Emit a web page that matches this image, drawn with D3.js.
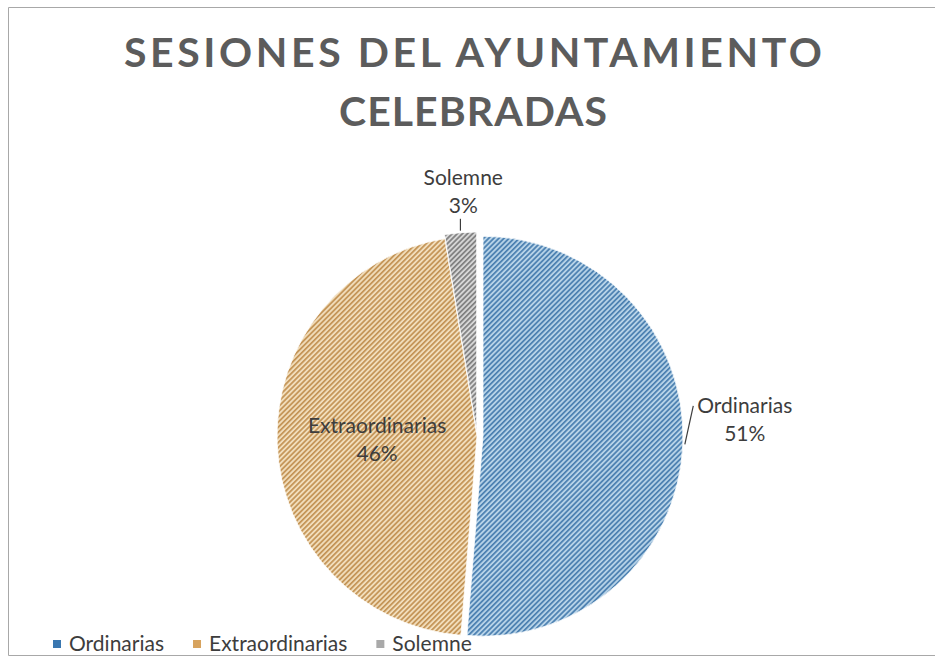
<!DOCTYPE html>
<html>
<head>
<meta charset="utf-8">
<script src="https://cdn.jsdelivr.net/npm/d3@7"></script>
<style>
  body { margin: 0; background: #fff; }
  svg { display: block; }
</style>
</head>
<body>
<svg id="chart" width="935" height="667"></svg>
<script>
// chart data
const titleLines = ["SESIONES DEL AYUNTAMIENTO", "CELEBRADAS"];
const categories = ["Ordinarias", "Extraordinarias", "Solemne"];
const sessions = [20, 18, 1];

// look
const stripeColors = ["#4a7fb0", "#c39355", "#7f7f7f"];
const stripeBg = ["#b6d2e7", "#f1ddbb", "#d6d6d6"];
const legendColors = ["#3a77b0", "#d7a35e", "#a9a9a9"];
const explode = [6, 0, 4];            // px each slice is pulled out
const labelInside = [false, true, false];
const labelNudge = [[0, -27], [0, 0], [6, 0]];

const svg = d3.select("#chart");
const W = 935, H = 667;
const cx = 477, cy = 436, r = 200;

// frame of the chart (right side runs off the scan)
svg.append("path")
  .attr("d", `M${W},7.5 H8.5 V655.5 H${W}`)
  .attr("fill", "none")
  .attr("stroke", "#a8a8a8")
  .attr("stroke-width", 1);

// hatch patterns
const defs = svg.append("defs");
categories.forEach((c, i) => {
  const p = defs.append("pattern")
    .attr("id", "hatch" + i)
    .attr("patternUnits", "userSpaceOnUse")
    .attr("width", 3.6)
    .attr("height", 3.6)
    .attr("patternTransform", "rotate(45)");
  p.append("rect").attr("width", 3.6).attr("height", 3.6).attr("fill", stripeBg[i]);
  p.append("rect").attr("width", 1.7).attr("height", 3.6).attr("fill", stripeColors[i]);
});

// title
const title = svg.append("g")
  .attr("font-family", "Lato, 'Open Sans', sans-serif")
  .attr("font-weight", "bold")
  .attr("font-size", 41)
  .attr("fill", "#5c5c5c")
  .attr("text-anchor", "middle");
const titleWidths = [698, 268];
titleLines.forEach((t, i) => {
  title.append("text")
    .attr("x", 473)
    .attr("y", 67 + i * 59)
    .attr("textLength", titleWidths[i])
    .attr("lengthAdjust", "spacing")
    .text(t);
});

// pie
const total = d3.sum(sessions);
const pct = d3.format(".0%");
const arcs = d3.pie().sort(null).value(d => d)(sessions);
const arc = d3.arc().innerRadius(0).outerRadius(r);
const polar = (a, rr) => [Math.sin(a) * rr, -Math.cos(a) * rr];

const slices = svg.append("g");
arcs.forEach((d, i) => {
  const mid = (d.startAngle + d.endAngle) / 2;
  const off = polar(mid, explode[i]);
  d.cx = cx + off[0];
  d.cy = cy + off[1];
  d.mid = mid;
  slices.append("path")
    .attr("transform", `translate(${d.cx},${d.cy})`)
    .attr("d", arc(d))
    .attr("fill", `url(#hatch${i})`)
    .attr("stroke", "#fff")
    .attr("stroke-width", 0.8);
});

// data labels
const labels = svg.append("g")
  .attr("font-family", "Lato, 'Open Sans', sans-serif")
  .attr("font-size", 21)
  .attr("fill", "#3d3d3d")
  .attr("text-anchor", "middle");

arcs.forEach((d, i) => {
  let lx, ly;
  if (labelInside[i]) {
    const c = arc.centroid(d);
    lx = d.cx + c[0];
    ly = d.cy + c[1];
  } else {
    const p = polar(d.mid, i === 0 ? 262 : 241);
    lx = d.cx + p[0];
    ly = d.cy + p[1];
  }
  lx += labelNudge[i][0];
  ly += labelNudge[i][1];
  const g = labels.append("g");
  g.append("text").attr("x", lx).attr("y", ly - 7).text(categories[i]);
  g.append("text").attr("x", lx).attr("y", ly + 21).text(pct(sessions[i] / total));

  if (!labelInside[i]) {
    const bb = g.node().getBBox();
    const s = polar(d.mid, r + 2);
    const x1 = d.cx + s[0], y1 = d.cy + s[1];
    let x2, y2;
    if (Math.abs(lx - d.cx) > Math.abs(ly - d.cy)) {
      x2 = bb.x - 4; y2 = bb.y + 14;
    } else {
      x2 = x1; y2 = bb.y + bb.height + 2;
    }
    svg.append("line")
      .attr("x1", x1).attr("y1", y1)
      .attr("x2", x2).attr("y2", y2)
      .attr("stroke", "#3d3d3d")
      .attr("stroke-width", 1.2);
  }
});

// legend
const legend = svg.append("g")
  .attr("font-family", "Lato, 'Open Sans', sans-serif")
  .attr("font-size", 21)
  .attr("fill", "#3d3d3d");
let lxPos = 53;
categories.forEach((c, i) => {
  legend.append("rect")
    .attr("x", lxPos).attr("y", 640)
    .attr("width", 8).attr("height", 8)
    .attr("fill", legendColors[i]);
  const t = legend.append("text")
    .attr("x", lxPos + 16).attr("y", 651)
    .text(c);
  lxPos += 16 + t.node().getComputedTextLength() + 29;
});
</script>
</body>
</html>
